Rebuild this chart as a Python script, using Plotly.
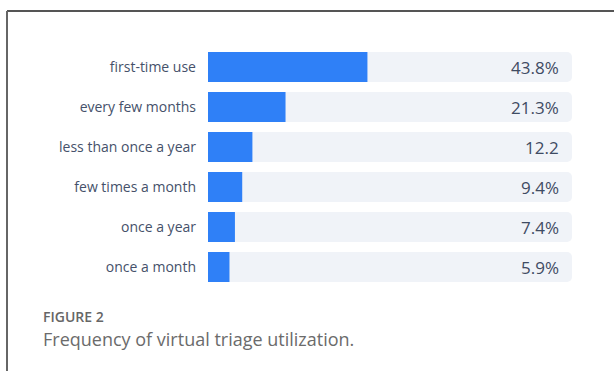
import plotly.graph_objects as go

categories = ["first-time use", "every few months", "less than once a year",
              "few times a month", "once a year", "once a month"]
values = [43.8, 21.3, 12.2, 9.4, 7.4, 5.9]
value_labels = ["43.8%", "21.3%", "12.2", "9.4%", "7.4%", "5.9%"]
track_max = 100

W, H = 614, 371
ML, MR, MT, MB = 208, 42, 47, 84
PW, PH = W - ML - MR, H - MT - MB


def px(x):
    return (x - ML) / PW


def py(y):
    return (H - MB - y) / PH


fig = go.Figure()
fig.add_trace(go.Bar(
    y=categories, x=[track_max] * len(categories), orientation="h",
    marker=dict(color="#f0f3f8", cornerradius=5, line=dict(width=0)),
    width=0.75, hoverinfo="skip", showlegend=False,
))
fig.add_trace(go.Bar(
    y=categories, x=values, orientation="h",
    marker=dict(color="#2f80f7", cornerradius=5, line=dict(width=0)),
    width=0.75, showlegend=False,
))

annotations = [
    dict(text=lab, x=track_max, y=cat, xref="x", yref="y", xanchor="right",
         yanchor="middle", xshift=-11, showarrow=False,
         font=dict(family="Open Sans", size=17, color="#3f4b63"))
    for cat, lab in zip(categories, value_labels)
]
annotations += [
    dict(text="FIGURE 2", xref="paper", yref="paper", x=px(41), y=py(316),
         xanchor="left", yanchor="middle", showarrow=False,
         font=dict(family="Open Sans", size=14, color="#666666", weight=600)),
    dict(text="Frequency of virtual triage utilization.", xref="paper",
         yref="paper", x=px(41), y=py(339), xanchor="left",
         yanchor="middle", showarrow=False,
         font=dict(family="Open Sans", size=18, color="#6b6b6b")),
]

fig.update_layout(
    width=W, height=H, margin=dict(l=ML, r=MR, t=MT, b=MB),
    barmode="overlay", paper_bgcolor="white", plot_bgcolor="white",
    xaxis=dict(range=[0, track_max], visible=False, fixedrange=True),
    yaxis=dict(categoryorder="array", categoryarray=categories,
               autorange="reversed", showgrid=False, zeroline=False,
               showline=False, ticks="", ticklabelstandoff=11,
               tickfont=dict(family="Open Sans", size=14, color="#45516a")),
    font=dict(family="Open Sans"),
    shapes=[
        dict(type="line", xref="paper", yref="paper", x0=px(7), x1=px(614),
             y0=py(11), y1=py(11), line=dict(color="#555555", width=2)),
        dict(type="line", xref="paper", yref="paper", x0=px(7), x1=px(7),
             y0=py(11), y1=py(371), line=dict(color="#666666", width=2)),
    ],
    annotations=annotations,
)

fig.write_html("out.html")
